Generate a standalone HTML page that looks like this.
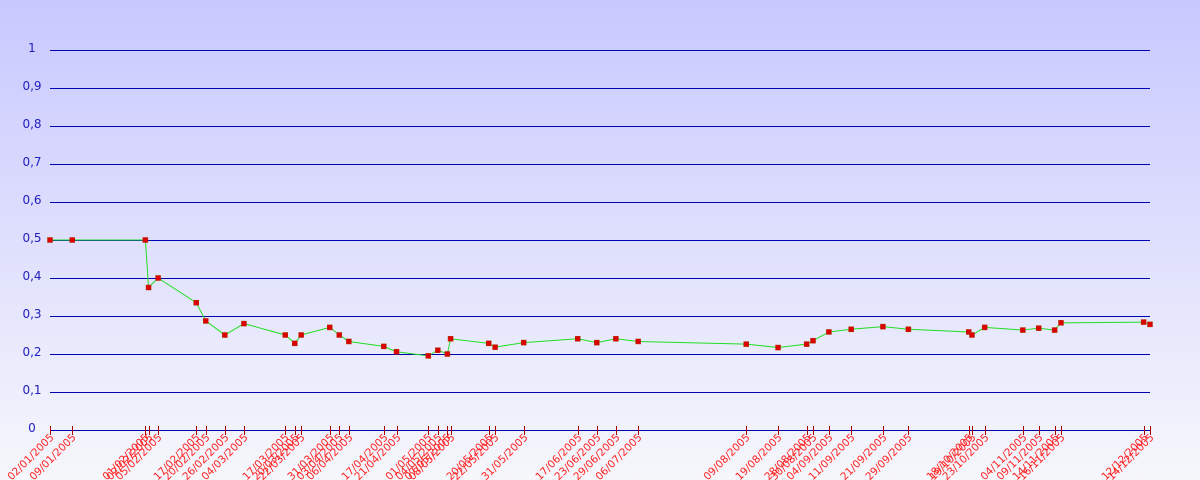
<!DOCTYPE html>
<html><head><meta charset="utf-8"><style>
body{margin:0;width:1200px;height:480px;overflow:hidden}
svg{display:block;font-family:"DejaVu Sans","Liberation Sans",sans-serif}
</style></head><body>
<svg id="c" width="1200" height="480" xmlns="http://www.w3.org/2000/svg">
<defs><linearGradient id="bg" x1="0" y1="0" x2="0" y2="1"><stop offset="0" stop-color="#c8c8ff"/><stop offset="1" stop-color="#f6f7fb"/></linearGradient></defs>
<rect width="1200" height="480" fill="url(#bg)"/>
</svg>
<script>
const dates=["02/01/2005","09/01/2005","01/02/2005","02/02/2005","05/02/2005","17/02/2005","20/02/2005","26/02/2005","04/03/2005","17/03/2005","20/03/2005","22/03/2005","31/03/2005","03/04/2005","06/04/2005","17/04/2005","21/04/2005","01/05/2005","04/05/2005","07/05/2005","08/05/2005","20/05/2005","22/05/2005","31/05/2005","17/06/2005","23/06/2005","29/06/2005","06/07/2005","09/08/2005","19/08/2005","28/08/2005","30/08/2005","04/09/2005","11/09/2005","21/09/2005","29/09/2005","18/10/2005","19/10/2005","23/10/2005","04/11/2005","09/11/2005","14/11/2005","16/11/2005","12/12/2005","14/12/2005"];
const values=[0.5,0.5,0.5,0.375,0.4,0.335,0.287,0.25,0.28,0.25,0.228,0.25,0.27,0.25,0.233,0.22,0.206,0.195,0.21,0.2,0.24,0.228,0.218,0.23,0.24,0.23,0.24,0.233,0.226,0.217,0.226,0.235,0.258,0.265,0.272,0.265,0.258,0.25,0.27,0.263,0.268,0.263,0.282,0.284,0.278];
const yTicks=[0,0.1,0.2,0.3,0.4,0.5,0.6,0.7,0.8,0.9,1];
const svg=document.getElementById('c');const NS='http://www.w3.org/2000/svg';
function mk(t,a,p){const e=document.createElementNS(NS,t);for(const k in a)e.setAttribute(k,a[k]);(p||svg).appendChild(e);return e;}
function day(s){const[d,m,y]=s.split('/').map(Number);return Date.UTC(y,m-1,d)/864e5;}
const d0=day(dates[0]),d1=day(dates[dates.length-1]);
const X=s=>50+(day(s)-d0)/(d1-d0)*1100;
const Y=v=>430-v*380;
yTicks.forEach(v=>{
 const y=Math.round(Y(v))+0.5;
 const l=mk('line',{x1:50,x2:1150,y1:y,y2:y,stroke:'#0000b0','stroke-width':1,'shape-rendering':'crispEdges'});
 
 
 const t=mk('text',{x:32,y:Y(v)+2,'text-anchor':'middle','font-size':12,fill:'#2020c0'});
 t.textContent=String(v).replace('.',',');
 
 
});
dates.forEach(s=>{
 const x=Math.round(X(s))+0.5;
 const tk=mk('line',{x1:x,x2:x,y1:426,y2:435,stroke:'#aa0000','stroke-width':1,'shape-rendering':'crispEdges'});
 
 
 const t=mk('text',{x:x+4,y:438,'text-anchor':'end','font-size':10.5,fill:'#ff2020',transform:`rotate(-45 ${x+4} 438)`});
 t.textContent=s;
 
 
});
const pl=mk('polyline',{points:dates.map((s,i)=>X(s)+','+Y(values[i])).join(' '),fill:'none',stroke:'#22dd22','stroke-width':1});


dates.forEach((s,i)=>{
 const r=mk('rect',{x:X(s)-2.5,y:Y(values[i])-2.5,width:5,height:5,fill:'#dd0000',stroke:'#aa3300','stroke-width':0.5});
 
 
});
</script>
</body></html>
